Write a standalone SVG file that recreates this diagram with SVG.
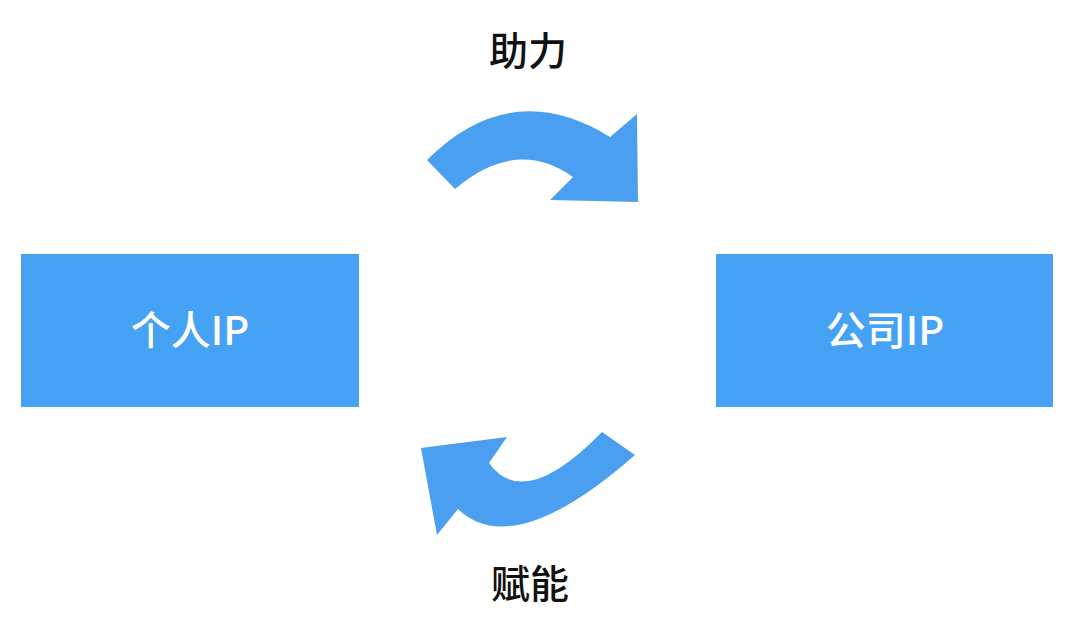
<svg xmlns="http://www.w3.org/2000/svg" width="1080" height="641" viewBox="0 0 1080 641">
<style>
.box{fill:#46a2f4}
.arrow{fill:#4a9ff0}
.bt{font-family:"Noto Sans CJK SC","Noto Sans",sans-serif;font-size:40px;font-weight:500;fill:#ffffff;text-anchor:middle}
.lb{font-family:"Noto Sans CJK SC","Noto Sans",sans-serif;font-size:39px;font-weight:500;fill:#111111;text-anchor:middle}
</style>
<rect width="1080" height="641" fill="#ffffff"/>
<g id="node-personal">
<rect class="box" x="21" y="254" width="338" height="153"/>
<text class="bt" x="190" y="345">个人IP</text>
</g>
<g id="node-company">
<rect class="box" x="716" y="254" width="337" height="153"/>
<text class="bt" x="885" y="345">公司IP</text>
</g>
<g id="connectors">
<path class="arrow" d="M427,160 Q511,76 610,137 L637,114 L638,202 L550,200 L573,177 Q516,137 455,189 Z"/>
<path class="arrow" d="M602,432 L635,455 Q513,562 458,509 L437,535 L421,448 L507,437 L489,463 Q524,512 602,432 Z"/>
<text class="lb" x="528" y="65">助力</text>
<text class="lb" x="530" y="598">赋能</text>
</g>
</svg>
